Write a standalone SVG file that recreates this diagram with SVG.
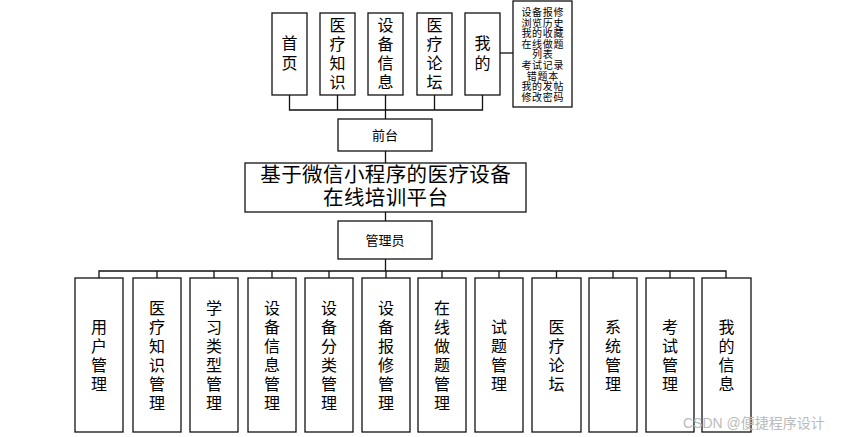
<svg xmlns="http://www.w3.org/2000/svg" width="851" height="437" viewBox="0 0 851 437">
<style>
.box{fill:#fff;stroke:#111;stroke-width:1.3}
.ln{fill:none;stroke:#111;stroke-width:1.3}
.t{font-family:"Liberation Sans","Noto Sans CJK SC",sans-serif;font-size:16px;fill:#000;text-anchor:middle}
.s{font-family:"Liberation Sans","Noto Sans CJK SC",sans-serif;font-size:10px;letter-spacing:0.7px;fill:#000;text-anchor:middle}
.m{font-family:"Liberation Sans","Noto Sans CJK SC",sans-serif;font-size:13px;fill:#000;text-anchor:middle}
.h{font-family:"Liberation Serif","Noto Sans CJK SC",serif;font-size:20.5px;letter-spacing:0.4px;fill:#000;text-anchor:middle}
.w{font-family:"Liberation Sans","Noto Sans CJK SC",sans-serif;font-size:14px;fill:#bbb}
</style>
<rect width="851" height="437" fill="#fff"/>
<g id="connectors">
<path class="ln" d="M289.5 95V110H482.5V95M337.5 95V110M385.5 95V120M434.5 95V110"/>
<path class="ln" d="M500 53H513"/>
<path class="ln" d="M385.5 151V163M385.5 212V221M385.5 259V271"/>
<path class="ln" d="M99 278V271H726V278M157 271V278M214 271V278M272 271V278M329 271V278M386 271V278M442 271V278M499 271V278M556.5 271V278M613 271V278M670 271V278"/>
</g>
<g id="n-shouye"><rect class="box" x="272" y="13" width="35" height="82"/><text class="t"><tspan x="289.5" y="49">首</tspan><tspan x="289.5" y="69">页</tspan></text></g>
<g id="n-yiliaozhishi"><rect class="box" x="320" y="13" width="35" height="82"/><text class="t"><tspan x="337.5" y="31">医</tspan><tspan x="337.5" y="50">疗</tspan><tspan x="337.5" y="69">知</tspan><tspan x="337.5" y="88">识</tspan></text></g>
<g id="n-shebeixinxi"><rect class="box" x="368" y="13" width="35" height="82"/><text class="t"><tspan x="385.5" y="31">设</tspan><tspan x="385.5" y="50">备</tspan><tspan x="385.5" y="69">信</tspan><tspan x="385.5" y="88">息</tspan></text></g>
<g id="n-yiliaoluntan"><rect class="box" x="417" y="13" width="35" height="82"/><text class="t"><tspan x="434.5" y="31">医</tspan><tspan x="434.5" y="50">疗</tspan><tspan x="434.5" y="69">论</tspan><tspan x="434.5" y="88">坛</tspan></text></g>
<g id="n-wode"><rect class="box" x="465" y="13" width="35" height="82"/><text class="t"><tspan x="482.5" y="49">我</tspan><tspan x="482.5" y="69">的</tspan></text></g>
<g id="n-wode-list"><rect class="box" x="513" y="1" width="59" height="106"/><text class="s"><tspan x="542.8" y="16">设备报修</tspan><tspan x="542.8" y="26.6">浏览历史</tspan><tspan x="542.8" y="37.2">我的收藏</tspan><tspan x="542.8" y="47.8">在线做题</tspan><tspan x="542.8" y="58.4">列表</tspan><tspan x="542.8" y="69">考试记录</tspan><tspan x="542.8" y="79.6">错题本</tspan><tspan x="542.8" y="90.2">我的发帖</tspan><tspan x="542.8" y="100.8">修改密码</tspan></text></g>
<g id="n-qiantai"><rect class="box" x="338" y="119" width="94" height="32"/><text class="m" x="385" y="140">前台</text></g>
<g id="n-title"><rect class="box" x="245" y="163" width="281" height="49"/><text class="h"><tspan x="385.7" y="182">基于微信小程序的医疗设备</tspan><tspan x="385.7" y="205">在线培训平台</tspan></text></g>
<g id="n-admin"><rect class="box" x="338" y="221" width="94" height="38"/><text class="m" x="385" y="245">管理员</text></g>
<g id="n-b1"><rect class="box" x="75" y="278" width="48" height="154"/><text class="t"><tspan x="99" y="333">用</tspan><tspan x="99" y="352">户</tspan><tspan x="99" y="371">管</tspan><tspan x="99" y="390">理</tspan></text></g>
<g id="n-b2"><rect class="box" x="133" y="278" width="48" height="154"/><text class="t"><tspan x="157" y="314">医</tspan><tspan x="157" y="333">疗</tspan><tspan x="157" y="352">知</tspan><tspan x="157" y="371">识</tspan><tspan x="157" y="390">管</tspan><tspan x="157" y="409">理</tspan></text></g>
<g id="n-b3"><rect class="box" x="190" y="278" width="48" height="154"/><text class="t"><tspan x="214" y="314">学</tspan><tspan x="214" y="333">习</tspan><tspan x="214" y="352">类</tspan><tspan x="214" y="371">型</tspan><tspan x="214" y="390">管</tspan><tspan x="214" y="409">理</tspan></text></g>
<g id="n-b4"><rect class="box" x="248" y="278" width="48" height="154"/><text class="t"><tspan x="272" y="314">设</tspan><tspan x="272" y="333">备</tspan><tspan x="272" y="352">信</tspan><tspan x="272" y="371">息</tspan><tspan x="272" y="390">管</tspan><tspan x="272" y="409">理</tspan></text></g>
<g id="n-b5"><rect class="box" x="305" y="278" width="48" height="154"/><text class="t"><tspan x="329" y="314">设</tspan><tspan x="329" y="333">备</tspan><tspan x="329" y="352">分</tspan><tspan x="329" y="371">类</tspan><tspan x="329" y="390">管</tspan><tspan x="329" y="409">理</tspan></text></g>
<g id="n-b6"><rect class="box" x="362" y="278" width="48" height="154"/><text class="t"><tspan x="386" y="314">设</tspan><tspan x="386" y="333">备</tspan><tspan x="386" y="352">报</tspan><tspan x="386" y="371">修</tspan><tspan x="386" y="390">管</tspan><tspan x="386" y="409">理</tspan></text></g>
<g id="n-b7"><rect class="box" x="418" y="278" width="48" height="154"/><text class="t"><tspan x="442" y="314">在</tspan><tspan x="442" y="333">线</tspan><tspan x="442" y="352">做</tspan><tspan x="442" y="371">题</tspan><tspan x="442" y="390">管</tspan><tspan x="442" y="409">理</tspan></text></g>
<g id="n-b8"><rect class="box" x="475" y="278" width="48" height="154"/><text class="t"><tspan x="499" y="333">试</tspan><tspan x="499" y="352">题</tspan><tspan x="499" y="371">管</tspan><tspan x="499" y="390">理</tspan></text></g>
<g id="n-b9"><rect class="box" x="532" y="278" width="49" height="154"/><text class="t"><tspan x="556.5" y="333">医</tspan><tspan x="556.5" y="352">疗</tspan><tspan x="556.5" y="371">论</tspan><tspan x="556.5" y="390">坛</tspan></text></g>
<g id="n-b10"><rect class="box" x="589" y="278" width="48" height="154"/><text class="t"><tspan x="613" y="333">系</tspan><tspan x="613" y="352">统</tspan><tspan x="613" y="371">管</tspan><tspan x="613" y="390">理</tspan></text></g>
<g id="n-b11"><rect class="box" x="646" y="278" width="48" height="154"/><text class="t"><tspan x="670" y="333">考</tspan><tspan x="670" y="352">试</tspan><tspan x="670" y="371">管</tspan><tspan x="670" y="390">理</tspan></text></g>
<g id="n-b12"><rect class="box" x="702" y="278" width="49" height="154"/><text class="t"><tspan x="726.5" y="333">我</tspan><tspan x="726.5" y="352">的</tspan><tspan x="726.5" y="371">信</tspan><tspan x="726.5" y="390">息</tspan></text></g>
<text class="w" x="683" y="428">CSDN @便捷程序设计</text>
</svg>
